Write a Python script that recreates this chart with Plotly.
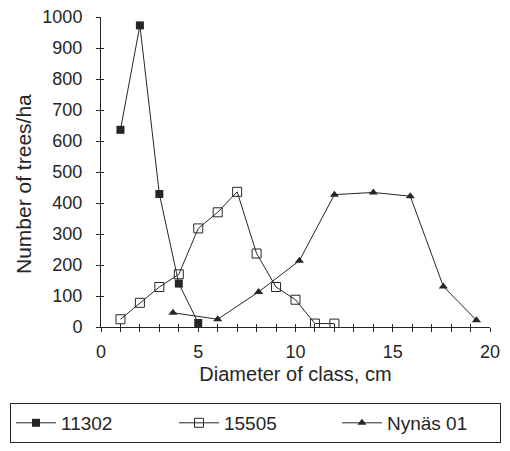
import plotly.graph_objects as go

x_11302 = [1, 2, 3, 4, 5]
y_11302 = [636, 973, 429, 140, 13]

x_15505 = [1, 2, 3, 4, 5, 6, 7, 8, 9, 10, 11, 12]
y_15505 = [25, 78, 129, 170, 318, 370, 436, 237, 129, 88, 11, 11]

x_nynas = [3.7, 6, 8.1, 10.2, 12, 14, 15.9, 17.6, 19.3]
y_nynas = [46, 25, 113, 214, 427, 434, 422, 131, 22]

ink = "#262626"
font = dict(family="Liberation Sans, Arial, sans-serif", size=18, color=ink)

fig = go.Figure()
fig.add_trace(go.Scatter(x=x_11302, y=y_11302, name="11302", mode="lines+markers",
                         line=dict(color=ink, width=1),
                         marker=dict(symbol="square", size=8, color=ink)))
fig.add_trace(go.Scatter(x=x_15505, y=y_15505, name="15505", mode="lines+markers",
                         line=dict(color=ink, width=1),
                         marker=dict(symbol="square-open", size=9, color=ink, line=dict(width=1))))
fig.add_trace(go.Scatter(x=x_nynas, y=y_nynas, name="Nynäs 01", mode="lines+markers",
                         line=dict(color=ink, width=1),
                         marker=dict(symbol="triangle-up", size=8, color=ink)))
# invisible trace to show the overlaid (inside-tick) axes
fig.add_trace(go.Scatter(x=[None], y=[None], xaxis="x2", yaxis="y2", showlegend=False,
                         hoverinfo="skip"))

fig.update_layout(
    width=510, height=451,
    margin=dict(l=101, r=20, t=17, b=124, autoexpand=False),
    paper_bgcolor="white", plot_bgcolor="white",
    font=font,
    showlegend=True,
    legend=dict(orientation="h", x=-0.234, xanchor="left", y=-0.245, yanchor="top",
                bordercolor=ink, borderwidth=1,
                entrywidth=108, entrywidthmode="pixels",
                font=dict(size=19), itemwidth=40),
    xaxis=dict(range=[0, 20], tickvals=[0, 5, 10, 15, 20], showgrid=False, zeroline=False,
               showline=True, linecolor=ink, linewidth=1,
               ticks="outside", ticklen=4, tickcolor=ink, ticklabelstandoff=4,
               minor=dict(dtick=1, ticks="outside", ticklen=4, tickcolor=ink),
               title=dict(text="Diameter of class, cm", standoff=6, font=dict(size=20))),
    yaxis=dict(range=[0, 1000], dtick=100, showgrid=False, zeroline=False,
               showline=True, linecolor=ink, linewidth=1,
               ticks="outside", ticklen=4, tickcolor=ink, ticklabelstandoff=10),
    xaxis2=dict(overlaying="x", range=[0, 20], dtick=1, showticklabels=False,
                showgrid=False, zeroline=False, showline=False,
                ticks="inside", ticklen=3, tickcolor=ink, anchor="y2", side="bottom"),
    yaxis2=dict(overlaying="y", range=[0, 1000], dtick=100, showticklabels=False,
                showgrid=False, zeroline=False, showline=False,
                ticks="inside", ticklen=3, tickcolor=ink, anchor="x2", side="left"),
    annotations=[dict(text="Number of trees/ha", textangle=-90, showarrow=False,
                      xref="paper", yref="paper", x=(23 - 101) / 389, y=(327 - 184) / 310,
                      xanchor="center", yanchor="middle", font=dict(size=21, color=ink))],
)

fig.write_html("out.html", config={"displayModeBar": False},
               post_script="document.body.style.margin='0';document.body.style.overflow='hidden';")
